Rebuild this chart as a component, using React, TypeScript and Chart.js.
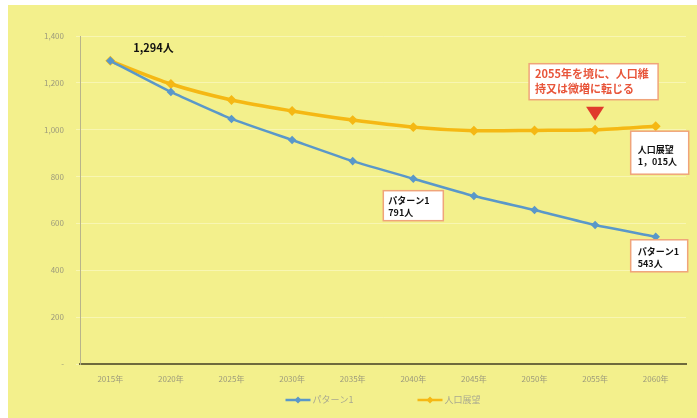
import React, { useEffect, useRef } from "react";
import { Chart, registerables } from "chart.js";

Chart.register(...registerables);

const categories = ["2015年", "2020年", "2025年", "2030年", "2035年", "2040年", "2045年", "2050年", "2055年", "2060年"];
const pattern1 = [1294, 1161, 1046, 956, 866, 791, 717, 657, 593, 543];
const outlook = [1294, 1195, 1127, 1080, 1041, 1011, 996, 997, 1000, 1015];
const seriesNames = ["パターン1", "人口展望"];
const yTicks = { min: 0, max: 1400, step: 200 };
const calloutLines = ["2055年を境に、人口維", "持又は微増に転じる"];
const startLabel = "1,294人";
const outlookEndLines = ["人口展望", "1，015人"];
const p1MidLines = ["パターン1", "791人"];
const p1EndLines = ["パターン1", "543人"];

const BLUE = "#5a98c9";
const ORANGE = "#f5b814";
const JP = '"Noto Sans CJK JP", "Noto Sans", sans-serif';

function box(ctx: CanvasRenderingContext2D, l: number, t: number, r: number, b: number) {
  ctx.save();
  ctx.fillStyle = "#ffffff";
  ctx.strokeStyle = "#f0a47a";
  ctx.lineWidth = 1.5;
  ctx.fillRect(l, t, r - l, b - t);
  ctx.strokeRect(l, t, r - l, b - t);
  ctx.restore();
}

function lines(ctx: CanvasRenderingContext2D, arr: string[], x: number, y: number, lh: number, font: string, color: string) {
  ctx.save();
  ctx.font = font;
  ctx.fillStyle = color;
  ctx.textAlign = "left";
  ctx.textBaseline = "middle";
  arr.forEach((s, i) => ctx.fillText(s, x, y + i * lh));
  ctx.restore();
}

const annotPlugin = {
  id: "annot",
  afterDatasetsDraw(chart: any) {
    const ctx: CanvasRenderingContext2D = chart.ctx;
    const m0 = chart.getDatasetMeta(0).data;
    const m1 = chart.getDatasetMeta(1).data;
    const s = m0[0];
    lines(ctx, [startLabel], s.x + 23, s.y - 13, 0, `bold 11px ${JP}`, "#111");
    const c = m1[8];
    box(ctx, c.x - 66, c.y - 66, c.x + 63, c.y - 30);
    lines(ctx, calloutLines, c.x - 60, c.y - 56, 15, `bold 11px ${JP}`, "#e8553a");
    ctx.save();
    ctx.fillStyle = "#e03a2c";
    ctx.beginPath();
    ctx.moveTo(c.x - 9, c.y - 23);
    ctx.lineTo(c.x + 9, c.y - 23);
    ctx.lineTo(c.x, c.y - 9);
    ctx.closePath();
    ctx.fill();
    ctx.restore();
    const e1 = m1[9];
    box(ctx, e1.x - 25, e1.y + 5, e1.x + 33, e1.y + 48);
    lines(ctx, outlookEndLines, e1.x - 18, e1.y + 23, 12, `bold 9px ${JP}`, "#111");
    const pm = m0[5];
    box(ctx, pm.x - 30, pm.y + 12, pm.x + 30, pm.y + 42);
    lines(ctx, p1MidLines, pm.x - 25, pm.y + 22, 12, `bold 9px ${JP}`, "#111");
    const pe = m0[9];
    box(ctx, pe.x - 25, pe.y + 3, pe.x + 32, pe.y + 35);
    lines(ctx, p1EndLines, pe.x - 18, pe.y + 15, 12, `bold 9px ${JP}`, "#111");

    const area = chart.chartArea;
    ctx.save();
    ctx.font = `9px ${JP}`;
    const colors = [BLUE, ORANGE];
    const w = seriesNames.map((n) => 27 + ctx.measureText(n).width);
    const gap = 64;
    const total = w[0] + w[1] + gap;
    let x = (area.left + area.right) / 2 - total / 2;
    const ly = 395;
    seriesNames.forEach((n, i) => {
      ctx.strokeStyle = colors[i];
      ctx.lineWidth = 2.5;
      ctx.beginPath();
      ctx.moveTo(x, ly);
      ctx.lineTo(x + 25, ly);
      ctx.stroke();
      ctx.fillStyle = colors[i];
      ctx.beginPath();
      ctx.moveTo(x + 12.5, ly - 3.5);
      ctx.lineTo(x + 16, ly);
      ctx.lineTo(x + 12.5, ly + 3.5);
      ctx.lineTo(x + 9, ly);
      ctx.closePath();
      ctx.fill();
      ctx.fillStyle = "#a8a890";
      ctx.textAlign = "left";
      ctx.textBaseline = "middle";
      ctx.fillText(n, x + 27, ly);
      x += w[i] + gap;
    });
    ctx.restore();
  },
};

export default function App() {
  const ref = useRef<HTMLCanvasElement | null>(null);
  useEffect(() => {
    if (!ref.current) return;
    const chart = new Chart(ref.current, {
      type: "line",
      data: {
        labels: categories,
        datasets: [
          {
            label: seriesNames[0],
            data: pattern1,
            borderColor: BLUE,
            backgroundColor: BLUE,
            borderWidth: 2.5,
            pointStyle: "rectRot",
            pointRadius: 2.5,
            tension: 0.15,
          },
          {
            label: seriesNames[1],
            data: outlook,
            borderColor: ORANGE,
            backgroundColor: ORANGE,
            borderWidth: 3.5,
            pointStyle: "rectRot",
            pointRadius: 2.5,
            tension: 0.3,
          },
        ],
      },
      options: {
        animation: false,
        responsive: false,
        maintainAspectRatio: false,
        layout: { padding: { left: 0, right: 11, top: 31, bottom: 32 } },
        plugins: { legend: { display: false }, tooltip: { enabled: false } },
        scales: {
          x: {
            offset: true,
            grid: { display: false, drawTicks: false },
            border: { color: "#6e6a3c", width: 2 },
            ticks: { color: "#9c9a7c", font: { size: 8, family: JP }, padding: 10, maxRotation: 0 },
            afterFit: (s: any) => { s.height = 22; },
          },
          y: {
            min: yTicks.min,
            max: yTicks.max,
            grid: { color: "rgba(255,255,235,0.4)", tickLength: 4, lineWidth: 1 },
            border: { color: "#b8b48a", width: 1 },
            ticks: {
              stepSize: yTicks.step,
              color: "#9c9a7c",
              font: { size: 8, family: JP },
              padding: 12,
              callback: (v: any) => (Number(v) === 0 ? "-" : Number(v).toLocaleString("en-US")),
            },
            afterFit: (s: any) => { s.width = 72; },
          },
        },
      },
      plugins: [annotPlugin],
    });
    return () => chart.destroy();
  }, []);
  return (
    <div style={{ position: "fixed", left: 0, top: 0, width: 697, height: 418, background: "#ffffff" }}>
      <div style={{ position: "absolute", left: 8, top: 5, width: 689, height: 413, background: "#f3f08c" }}>
        <canvas ref={ref} width={689} height={413} style={{ display: "block", width: 689, height: 413 }} />
      </div>
    </div>
  );
}
